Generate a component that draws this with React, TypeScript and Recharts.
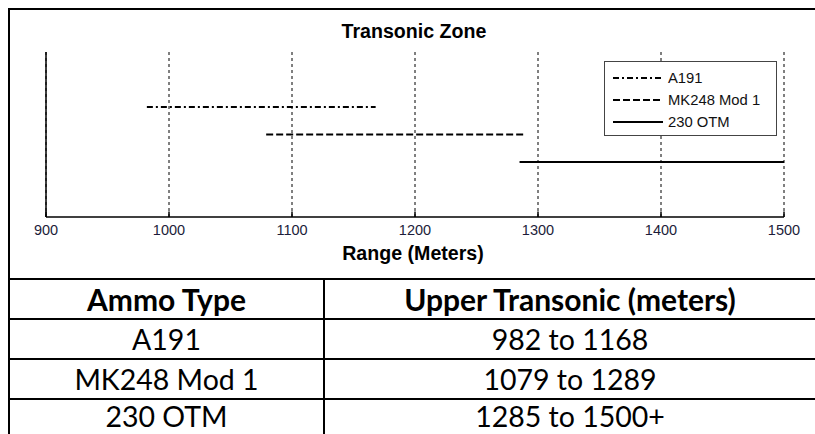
import React from 'react';
import { LineChart, Line, XAxis, YAxis, CartesianGrid, ReferenceLine } from 'recharts';

// ---- data ----
const seriesNames = ['A191', 'MK248 Mod 1', '230 OTM'];
const seriesStart = [982, 1079, 1285];
const seriesEnd = [1168, 1289, 1500];
const seriesLevel = [2, 1.5, 1];
const xTicks = [900, 1000, 1100, 1200, 1300, 1400, 1500];
const xDomain: [number, number] = [900, 1500];
const yDomain: [number, number] = [0, 3];
const chartTitle = 'Transonic Zone';
const xLabel = 'Range (Meters)';
const tableHeaders = ['Ammo Type', 'Upper Transonic (meters)'];
const tableRanges = ['982 to 1168', '1079 to 1289', '1285 to 1500+'];

// ---- styles ----
const seriesDash = ['6 3 2 3', '7 3', undefined];
const AX_FONT = '"Liberation Sans", Arial, sans-serif';
const TBL_FONT = 'Lato, "Open Sans", sans-serif';

const seriesData = seriesNames.map((n, i) => [
  { x: seriesStart[i], y: seriesLevel[i] },
  { x: seriesEnd[i], y: seriesLevel[i] },
]);

function Legend() {
  return (
    <div
      style={{
        position: 'absolute',
        left: 604,
        top: 61,
        width: 171,
        height: 73,
        border: '1.5px solid #444',
        background: '#fff',
        boxSizing: 'content-box',
      }}
    >
      {seriesNames.map((n, i) => (
        <div
          key={n}
          style={{
            position: 'absolute',
            left: 0,
            top: 6 + i * 22,
            height: 20,
            display: 'flex',
            alignItems: 'center',
            fontFamily: AX_FONT,
            fontSize: 14.8,
            color: '#111',
            whiteSpace: 'nowrap',
          }}
        >
          <svg width={62} height={20} style={{ display: 'block' }}>
            <line x1={8} x2={58} y1={10} y2={10} stroke="#000" strokeWidth={2} strokeDasharray={seriesDash[i]} />
          </svg>
          <span style={{ marginLeft: 1 }}>{n}</span>
        </div>
      ))}
    </div>
  );
}

export default function App() {
  const rows = [tableHeaders, ...seriesNames.map((n, i) => [n, tableRanges[i]])];
  return (
    <div style={{ position: 'absolute', left: 0, top: 0, width: 815, height: 434, overflow: 'hidden', background: '#fff' }}>
      {/* chart frame */}
      <div style={{ position: 'absolute', left: 8, top: 8, width: 900, height: 500, borderLeft: '2px solid #000', borderTop: '2px solid #000' }} />
      <div style={{ position: 'absolute', left: 0, top: 0 }}>
        <LineChart width={815} height={280} margin={{ top: 52, right: 31, bottom: 33, left: 46 }}>
          <CartesianGrid vertical horizontal={false} stroke="#000" strokeDasharray="3 3" strokeWidth={1} />
          <XAxis
            dataKey="x"
            type="number"
            domain={xDomain}
            ticks={xTicks}
            allowDataOverflow
            height={30}
            tickLine={false}
            axisLine={{ stroke: '#000', strokeWidth: 1.5 }}
            tick={{ fill: '#1c1c3a', fontSize: 14.5, fontFamily: AX_FONT }}
          />
          <YAxis type="number" domain={yDomain} hide />
          <ReferenceLine x={xDomain[0]} stroke="#000" strokeWidth={1.5} />
          {xTicks.map((t) => (
            <ReferenceLine
              key={'t' + t}
              segment={[
                { x: t, y: yDomain[0] },
                { x: t, y: yDomain[0] + 0.1 },
              ]}
              stroke="#000"
              strokeWidth={1.5}
            />
          ))}
          {seriesNames.map((n, i) => (
            <Line
              key={n}
              data={seriesData[i]}
              dataKey="y"
              name={n}
              stroke="#000"
              strokeWidth={2.2}
              strokeDasharray={seriesDash[i]}
              dot={false}
              activeDot={false}
              isAnimationActive={false}
              type="linear"
            />
          ))}
        </LineChart>
      </div>
      <div
        style={{
          position: 'absolute',
          left: 264,
          top: 20,
          width: 300,
          textAlign: 'center',
          fontFamily: AX_FONT,
          fontWeight: 'bold',
          fontSize: 19.6,
          lineHeight: '22px',
          color: '#000',
        }}
      >
        {chartTitle}
      </div>
      <div
        style={{
          position: 'absolute',
          left: 263,
          top: 242,
          width: 300,
          textAlign: 'center',
          fontFamily: AX_FONT,
          fontWeight: 'bold',
          fontSize: 19.6,
          lineHeight: '22px',
          color: '#000',
        }}
      >
        {xLabel}
      </div>
      <Legend />

      {/* table lines */}
      {[0, 1, 2, 3].map((r) => (
        <div key={'h' + r} style={{ position: 'absolute', left: 8, top: 278 + r * 40, width: 820, height: 2, background: '#000' }} />
      ))}
      <div style={{ position: 'absolute', left: 323, top: 278, width: 2, height: 200, background: '#000' }} />

      {/* table text */}
      {rows.map((row, r) => {
        const last = r === rows.length - 1;
        const h = last ? 33 : 38;
        return (
          <React.Fragment key={'r' + r}>
            {[0, 1].map((c) => (
              <div
                key={c}
                style={{
                  position: 'absolute',
                  left: c === 0 ? 10 : 325,
                  width: c === 0 ? 313 : 490,
                  top: 280 + r * 40,
                  height: h,
                  lineHeight: h + 'px',
                  textAlign: 'center',
                  fontFamily: TBL_FONT,
                  fontSize: r === 0 ? 30 : 28.5,
                  fontWeight: r === 0 ? 'bold' : 'normal',
                  color: '#000',
                  whiteSpace: 'nowrap',
                }}
              >
                {row[c]}
              </div>
            ))}
          </React.Fragment>
        );
      })}
    </div>
  );
}
